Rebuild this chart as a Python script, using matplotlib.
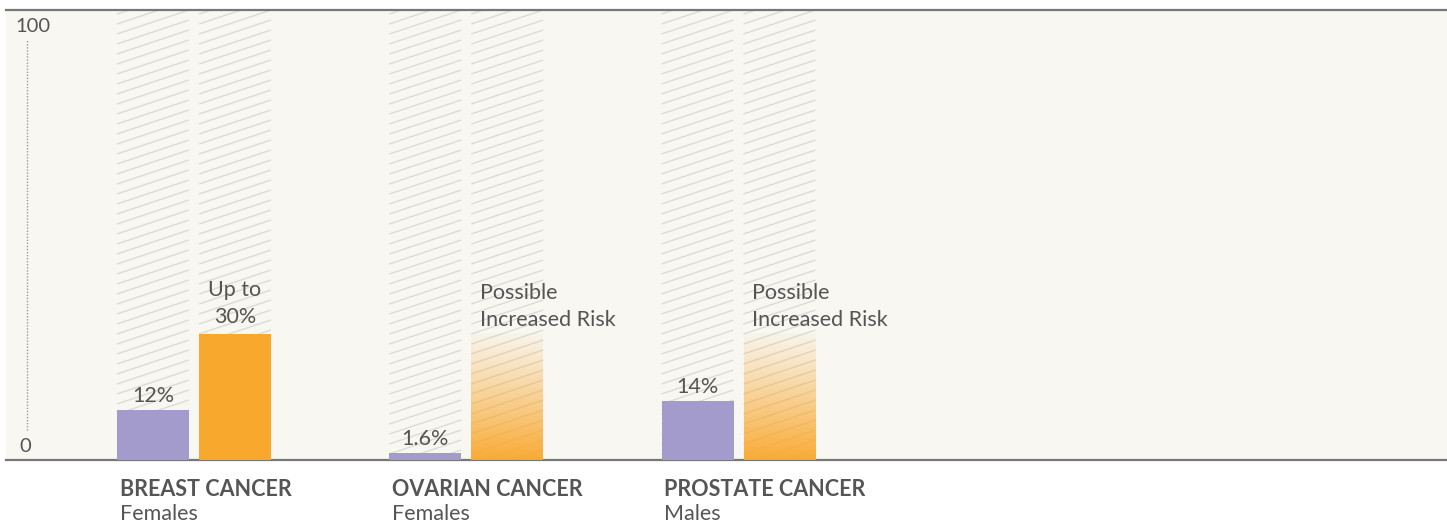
import numpy as np
import matplotlib
matplotlib.use('Agg')
import matplotlib.pyplot as plt
from matplotlib.patches import Rectangle
from matplotlib.collections import LineCollection
import matplotlib.transforms as mtransforms

# data
cancers = ['BREAST CANCER', 'OVARIAN CANCER', 'PROSTATE CANCER']
groups = ['Females', 'Females', 'Males']
general_risk = [12, 1.6, 14]
general_labels = ['12%', '1.6%', '14%']
carrier_risk = [30, 30, 30]
carrier_labels = ['Up to\n30%', 'Possible\nIncreased Risk', 'Possible\nIncreased Risk']
carrier_known = [True, False, False]   # False -> drawn as faded gradient
y_ticks = [0, 100]

# styles
bg = '#f8f7f2'
purple = '#a39bcb'
orange = '#f9a82e'
txt = '#555555'
hatch_col = '#dddbd5'
fs = 15.5

plt.rcParams['font.family'] = ['Lato', 'DejaVu Sans']

W, H = 1447, 525
fig = plt.figure(figsize=(W / 100, H / 100), dpi=100, facecolor='white')
ax = fig.add_axes([6 / W, 65 / H, 1441 / W, 450 / H])
ax.set_facecolor(bg)

gap = 272.25          # px between group centres
bw = 72 / gap
off = 41 / gap
ytop = 107.1
xmin = -188 / gap
xmax = xmin + 1441 / gap
ax.set_xlim(xmin, xmax)
ax.set_ylim(0, ytop)

# px per data unit, for slanted hatching
px_x = 1441 / (xmax - xmin)
px_y = 450 / ytop
slope = (1 / 3) * px_x / px_y
step = 10 / px_y


def hatched_track(x0):
    rect = Rectangle((x0, 0), bw, ytop, facecolor='none', edgecolor='none')
    ax.add_patch(rect)
    segs = []
    c = -slope * bw
    while c < ytop + step:
        segs.append([(x0, c), (x0 + bw, c + slope * bw)])
        c += step
    lc = LineCollection(segs, colors=hatch_col, linewidths=1.0, zorder=1)
    lc.set_clip_path(rect)
    ax.add_collection(lc)


trans = mtransforms.blended_transform_factory(ax.transData, ax.transAxes)

for i in range(len(cancers)):
    xp = i - off
    xo = i + off
    hatched_track(xp - bw / 2)
    hatched_track(xo - bw / 2)

    ax.bar(xp, general_risk[i], width=bw, color=purple, zorder=3)
    ax.annotate(general_labels[i], (xp, general_risk[i]), xytext=(0, 8),
                textcoords='offset pixels', ha='center', va='baseline',
                fontsize=fs, color=txt, zorder=5)

    if carrier_known[i]:
        ax.bar(xo, carrier_risk[i], width=bw, color=orange, zorder=3)
        ax.annotate(carrier_labels[i], (xo, carrier_risk[i]), xytext=(0, 11),
                    textcoords='offset pixels', ha='center', va='baseline',
                    fontsize=fs, color=txt, linespacing=1.45, zorder=5)
    else:
        n = 256
        grad = np.zeros((n, 1, 4))
        grad[:, 0, :3] = matplotlib.colors.to_rgb(orange)
        grad[:, 0, 3] = np.linspace(0.97, 0.05, n) ** 1.1
        ax.imshow(grad, extent=[xo - bw / 2, xo + bw / 2, 0, carrier_risk[i]],
                  origin='lower', aspect='auto', interpolation='bilinear', zorder=3)
        ax.annotate(carrier_labels[i], (xo - bw / 2, carrier_risk[i]), xytext=(9, 8),
                    textcoords='offset pixels', ha='left', va='baseline',
                    fontsize=fs, color=txt, linespacing=1.45, zorder=5)

    # category labels under the axis
    ax.text(xp - bw / 2 + 3 / gap, -30 / 450, cancers[i], transform=trans,
            ha='left', va='center', fontsize=fs, fontweight='bold', color=txt)
    ax.text(xp - bw / 2 + 3 / gap, -54 / 450, groups[i], transform=trans,
            ha='left', va='center', fontsize=fs, color=txt)

ax.set_xlim(xmin, xmax)
ax.set_ylim(0, ytop)

# dotted scale line with end labels
xs = xmin + 21 / px_x
ax.plot([xs, xs], [30 / px_y, y_ticks[1]], linestyle=(0, (1, 1.2)), color='#9a9a9a',
        linewidth=1, zorder=2)
ax.text(xmin + 9 / px_x, y_ticks[1] + 13 / px_y, str(y_ticks[1]), ha='left',
        va='center', fontsize=14.5, color=txt)
ax.text(xmin + 13 / px_x, y_ticks[0] + 13 / px_y, str(y_ticks[0]), ha='left',
        va='center', fontsize=14.5, color=txt)

for s in ['left', 'right']:
    ax.spines[s].set_visible(False)
for s in ['top', 'bottom']:
    ax.spines[s].set_color('#777777')
    ax.spines[s].set_linewidth(1.6)
ax.set_xticks([])
ax.set_yticks([])

fig.savefig('out.png', dpi=100, facecolor='white')
